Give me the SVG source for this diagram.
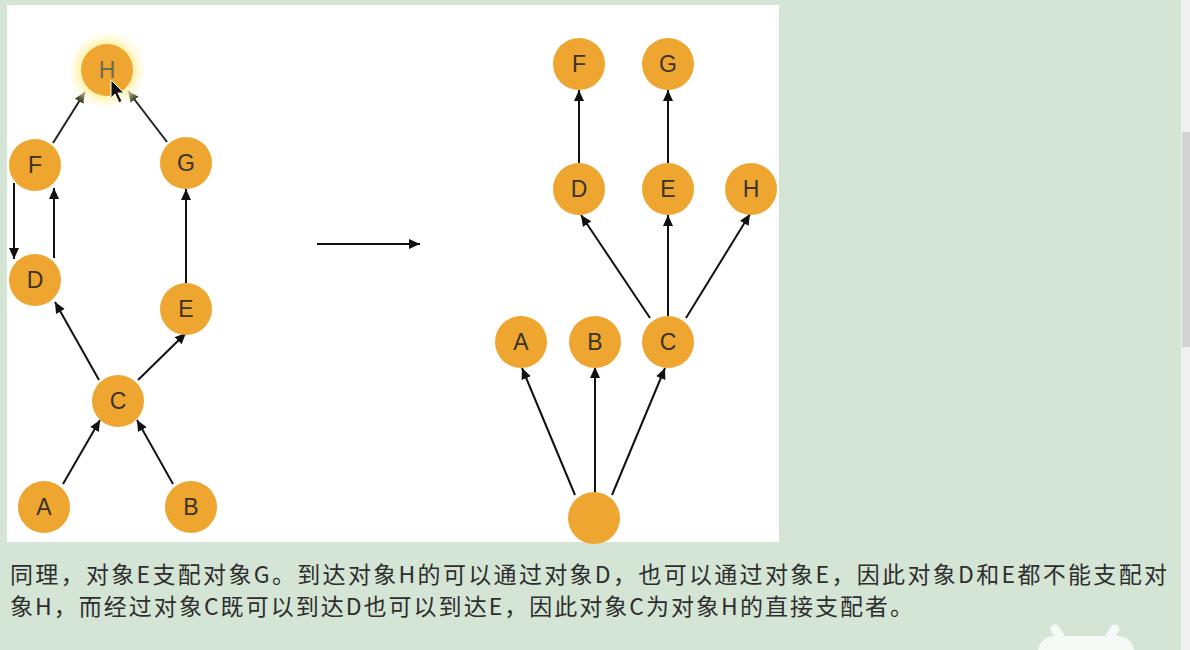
<svg xmlns="http://www.w3.org/2000/svg" width="1190" height="650" viewBox="0 0 1190 650">
<defs>
<marker id="ah" markerWidth="12" markerHeight="12" refX="11" refY="5" orient="auto" markerUnits="userSpaceOnUse">
<path d="M0,0 L11,5 L0,10 Z" fill="#111"/>
</marker>
<marker id="ahg" markerWidth="12" markerHeight="12" refX="11" refY="5" orient="auto" markerUnits="userSpaceOnUse">
<path d="M0,0 L11,5 L0,10 Z" fill="#4a4a2a"/>
</marker>
<radialGradient id="glow">
<stop offset="0.7" stop-color="#fff3b0" stop-opacity="0.9"/>
<stop offset="1" stop-color="#fffbe0" stop-opacity="0"/>
</radialGradient>
</defs>
<style>
.n{fill:#efa630}
.t{font-family:"Liberation Sans",Arial,sans-serif;font-size:23px;fill:#3a3328;text-anchor:middle}
.e{stroke:#111;stroke-width:2;fill:none;marker-end:url(#ah)}
.eg{stroke:#222;stroke-width:2;fill:none;marker-end:url(#ahg)}
.p{font-family:"Noto Sans CJK SC","Noto Sans",sans-serif;font-size:23px;fill:#2e2e2e}
</style>
<rect width="1190" height="650" fill="#d4e5d5"/>
<rect x="1181" y="0" width="9" height="650" fill="#f0f0f0"/>
<rect x="1182" y="132" width="8" height="215" fill="#d3d3d3"/>
<rect x="7" y="5" width="772" height="537" fill="#ffffff"/>

<g id="connectors">
<line class="eg" x1="53" y1="143" x2="85" y2="92"/>
<line class="eg" x1="167" y1="142" x2="128" y2="91"/>
<line class="e" x1="14" y1="183" x2="14" y2="259"/>
<line class="e" x1="54" y1="258" x2="54" y2="188"/>
<line class="e" x1="186" y1="283" x2="186" y2="189"/>
<line class="e" x1="99" y1="380" x2="55" y2="302"/>
<line class="e" x1="138" y1="380" x2="186" y2="333"/>
<line class="e" x1="63" y1="484" x2="100" y2="420"/>
<line class="e" x1="173" y1="484" x2="137" y2="420"/>
<line class="e" x1="317" y1="244" x2="420" y2="244"/>
<line class="e" x1="579" y1="163" x2="579" y2="90"/>
<line class="e" x1="668" y1="163" x2="668" y2="90"/>
<line class="e" x1="650" y1="318" x2="581" y2="215"/>
<line class="e" x1="668" y1="316" x2="668" y2="215"/>
<line class="e" x1="686" y1="318" x2="750" y2="214"/>
<line class="e" x1="575" y1="495" x2="522" y2="368"/>
<line class="e" x1="595" y1="493" x2="595" y2="367"/>
<line class="e" x1="612" y1="495" x2="665" y2="368"/>
</g>

<g id="L-H"><circle cx="107" cy="70" r="40" fill="url(#glow)"/><circle class="n" cx="107" cy="70" r="26"/><text class="t" x="107" y="78" fill="#6a6a50" style="fill:#6d6a55">H</text></g>
<g id="L-F"><circle class="n" cx="35" cy="165" r="26"/><text class="t" x="35" y="173">F</text></g>
<g id="L-G"><circle class="n" cx="186" cy="163" r="26"/><text class="t" x="186" y="171">G</text></g>
<g id="L-D"><circle class="n" cx="35" cy="280" r="26"/><text class="t" x="35" y="288">D</text></g>
<g id="L-E"><circle class="n" cx="186" cy="309" r="26"/><text class="t" x="186" y="317">E</text></g>
<g id="L-C"><circle class="n" cx="118" cy="401" r="26"/><text class="t" x="118" y="409">C</text></g>
<g id="L-A"><circle class="n" cx="44" cy="507" r="26"/><text class="t" x="44" y="515">A</text></g>
<g id="L-B"><circle class="n" cx="191" cy="507" r="26"/><text class="t" x="191" y="515">B</text></g>

<g id="cursor"><path d="M111,80 L111,98 L115,94 L119,103 L122,101 L118,93 L124,93 Z" fill="#111" stroke="#fff" stroke-width="1"/></g>

<g id="R-F"><circle class="n" cx="579" cy="64" r="26"/><text class="t" x="579" y="72">F</text></g>
<g id="R-G"><circle class="n" cx="668" cy="64" r="26"/><text class="t" x="668" y="72">G</text></g>
<g id="R-D"><circle class="n" cx="579" cy="189" r="26"/><text class="t" x="579" y="197">D</text></g>
<g id="R-E"><circle class="n" cx="668" cy="189" r="26"/><text class="t" x="668" y="197">E</text></g>
<g id="R-H"><circle class="n" cx="751" cy="189" r="26"/><text class="t" x="751" y="197">H</text></g>
<g id="R-A"><circle class="n" cx="521" cy="342" r="26"/><text class="t" x="521" y="350">A</text></g>
<g id="R-B"><circle class="n" cx="595" cy="342" r="26"/><text class="t" x="595" y="350">B</text></g>
<g id="R-C"><circle class="n" cx="668" cy="342" r="26"/><text class="t" x="668" y="350">C</text></g>
<g id="R-root"><circle class="n" cx="594" cy="518" r="26"/></g>

<text class="p" x="10" y="583" textLength="1157" lengthAdjust="spacing">同理，对象E支配对象G。到达对象H的可以通过对象D，也可以通过对象E，因此对象D和E都不能支配对</text>
<text class="p" x="10" y="615" textLength="903" lengthAdjust="spacing">象H，而经过对象C既可以到达D也可以到达E，因此对象C为对象H的直接支配者。</text>

<g id="badge">
<rect x="1038" y="636" width="96" height="40" rx="16" fill="#f6faf6"/>
<line x1="1062" y1="640" x2="1055" y2="629" stroke="#f6faf6" stroke-width="9" stroke-linecap="round"/>
<line x1="1108" y1="640" x2="1115" y2="629" stroke="#f6faf6" stroke-width="9" stroke-linecap="round"/>
</g>
</svg>
